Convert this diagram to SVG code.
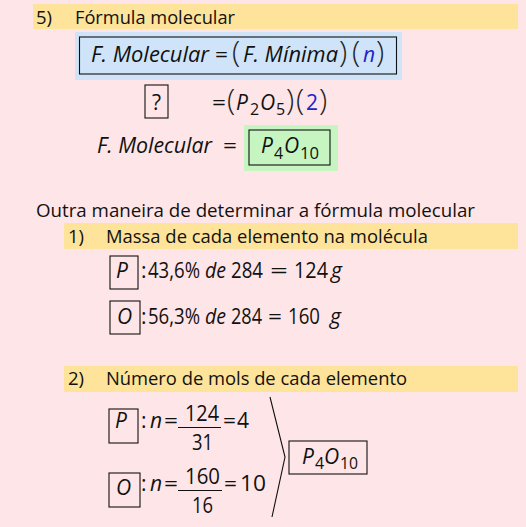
<svg xmlns="http://www.w3.org/2000/svg" width="526" height="527" viewBox="0 0 526 527">
<style>
text{font-family:"Open Sans","Liberation Sans",sans-serif;fill:#111}
.h{font-size:18.5px}
.m{font-size:21px}
.i{font-style:italic}
.s{font-size:16px}
.p{font-size:30px;font-weight:300;fill:#222}
.b{fill:#2222cc}
.bar{fill:#fee39a}
.box{fill:none;stroke:#111;stroke-width:1.1}
.ln{stroke:#111;stroke-width:1.1;fill:none}
</style>
<rect width="526" height="527" fill="#fee5e7"/>

<g id="header5">
<rect class="bar" x="33" y="4" width="485" height="25"/>
<text class="h" y="24"><tspan x="36">5)</tspan><tspan x="75" textLength="160" lengthAdjust="spacingAndGlyphs">Fórmula molecular</tspan></text>
</g>

<g id="formula-box">
<rect x="75" y="32" width="327" height="48" fill="#cfe4f8"/>
<rect class="box" x="79.5" y="37" width="317" height="37"/>
<text class="m" y="62"><tspan class="i" x="91" textLength="118" lengthAdjust="spacingAndGlyphs">F. Molecular</tspan><tspan x="215" textLength="13" lengthAdjust="spacingAndGlyphs">=</tspan><tspan class="p" x="232">(</tspan><tspan class="i" x="243" textLength="95" lengthAdjust="spacingAndGlyphs">F. Mínima</tspan><tspan class="p" x="339">)</tspan><tspan class="p" x="352">(</tspan><tspan class="i b" x="363">n</tspan><tspan class="p" x="376">)</tspan></text>
</g>

<g id="question-row">
<rect class="box" x="145" y="85" width="23" height="33"/>
<text class="m" x="156.5" y="110" text-anchor="middle">?</text>
<text class="m"><tspan x="212" y="110" textLength="14" lengthAdjust="spacingAndGlyphs">=</tspan><tspan class="p" x="227" y="110">(</tspan><tspan class="i" x="236" y="110">P</tspan><tspan class="s" x="250" y="115">2</tspan><tspan class="i" x="260" y="110">O</tspan><tspan class="s" x="276" y="115">5</tspan><tspan class="p" x="286" y="110">)</tspan><tspan class="p" x="296" y="110">(</tspan><tspan class="b" x="306" y="110">2</tspan><tspan class="p" x="319" y="110">)</tspan></text>
</g>

<g id="result-row">
<text class="m" y="153"><tspan class="i" x="97" textLength="115" lengthAdjust="spacingAndGlyphs">F. Molecular</tspan><tspan x="223" textLength="14" lengthAdjust="spacingAndGlyphs">=</tspan></text>
<rect x="244" y="125" width="94" height="46" fill="#c6f5c1"/>
<rect class="box" x="249" y="130" width="81" height="35"/>
<text class="m"><tspan class="i" x="261" y="153">P</tspan><tspan class="s" x="274" y="159">4</tspan><tspan class="i" x="284" y="153">O</tspan><tspan class="s" x="300" y="159" textLength="19" lengthAdjust="spacingAndGlyphs">10</tspan></text>
</g>

<g id="intro">
<text class="h" x="36" y="217" textLength="439" lengthAdjust="spacingAndGlyphs">Outra maneira de determinar a fórmula molecular</text>
</g>

<g id="header1">
<rect class="bar" x="64" y="223" width="454" height="26"/>
<text class="h" y="243"><tspan x="68">1)</tspan><tspan x="106" textLength="322" lengthAdjust="spacingAndGlyphs">Massa de cada elemento na molécula</tspan></text>
</g>

<g id="mass-P">
<rect class="box" x="110" y="256" width="28" height="33"/>
<text class="m i" x="116" y="278">P</text>
<text class="m" y="278"><tspan x="141">:</tspan><tspan x="148" textLength="52" lengthAdjust="spacingAndGlyphs">43,6%</tspan><tspan class="i" x="205" textLength="21" lengthAdjust="spacingAndGlyphs">de</tspan><tspan x="231" textLength="32" lengthAdjust="spacingAndGlyphs">284</tspan><tspan x="270" textLength="18" lengthAdjust="spacingAndGlyphs">=</tspan><tspan x="294" textLength="34" lengthAdjust="spacingAndGlyphs">124</tspan><tspan class="i" x="331">g</tspan></text>
</g>

<g id="mass-O">
<rect class="box" x="110" y="301" width="30" height="33"/>
<text class="m i" x="117" y="324">O</text>
<text class="m" y="324"><tspan x="141">:</tspan><tspan x="148" textLength="52" lengthAdjust="spacingAndGlyphs">56,3%</tspan><tspan class="i" x="205" textLength="21" lengthAdjust="spacingAndGlyphs">de</tspan><tspan x="231" textLength="31" lengthAdjust="spacingAndGlyphs">284</tspan><tspan x="268" textLength="14" lengthAdjust="spacingAndGlyphs">=</tspan><tspan x="288" textLength="32" lengthAdjust="spacingAndGlyphs">160</tspan><tspan class="i" x="330">g</tspan></text>
</g>

<g id="header2">
<rect class="bar" x="64" y="366" width="454" height="26"/>
<text class="h" y="385"><tspan x="68">2)</tspan><tspan x="106" textLength="301" lengthAdjust="spacingAndGlyphs">Número de mols de cada elemento</tspan></text>
</g>

<g id="mols-P">
<rect class="box" x="109" y="409" width="29" height="34"/>
<text class="m i" x="115" y="428">P</text>
<text class="m" y="428"><tspan x="141">:</tspan><tspan class="i" x="150">n</tspan><tspan x="164" textLength="14" lengthAdjust="spacingAndGlyphs">=</tspan></text>
<text class="m" x="185" y="421" textLength="34" lengthAdjust="spacingAndGlyphs">124</text>
<line class="ln" x1="178" y1="427.5" x2="221" y2="427.5"/>
<text class="m" x="192" y="450" textLength="21" lengthAdjust="spacingAndGlyphs">31</text>
<text class="m" y="428"><tspan x="223" textLength="13" lengthAdjust="spacingAndGlyphs">=</tspan><tspan x="237">4</tspan></text>
</g>

<g id="mols-O">
<rect class="box" x="109" y="473" width="31" height="34"/>
<text class="m i" x="116" y="495">O</text>
<text class="m" y="491"><tspan x="141">:</tspan><tspan class="i" x="150">n</tspan><tspan x="164" textLength="14" lengthAdjust="spacingAndGlyphs">=</tspan></text>
<text class="m" x="185" y="484" textLength="35" lengthAdjust="spacingAndGlyphs">160</text>
<line class="ln" x1="178" y1="490.5" x2="222" y2="490.5"/>
<text class="m" x="192" y="513" textLength="21" lengthAdjust="spacingAndGlyphs">16</text>
<text class="m" y="491"><tspan x="224" textLength="13" lengthAdjust="spacingAndGlyphs">=</tspan><tspan x="240" textLength="26" lengthAdjust="spacingAndGlyphs">10</tspan></text>
</g>

<g id="connectors">
<polyline class="ln" points="270,397 285,457 272,517"/>
</g>

<g id="result-box">
<rect class="box" x="289" y="441" width="78" height="33"/>
<text class="m"><tspan class="i" x="302" y="464">P</tspan><tspan class="s" x="315" y="469">4</tspan><tspan class="i" x="324" y="464">O</tspan><tspan class="s" x="340" y="469" textLength="18" lengthAdjust="spacingAndGlyphs">10</tspan></text>
</g>
</svg>
